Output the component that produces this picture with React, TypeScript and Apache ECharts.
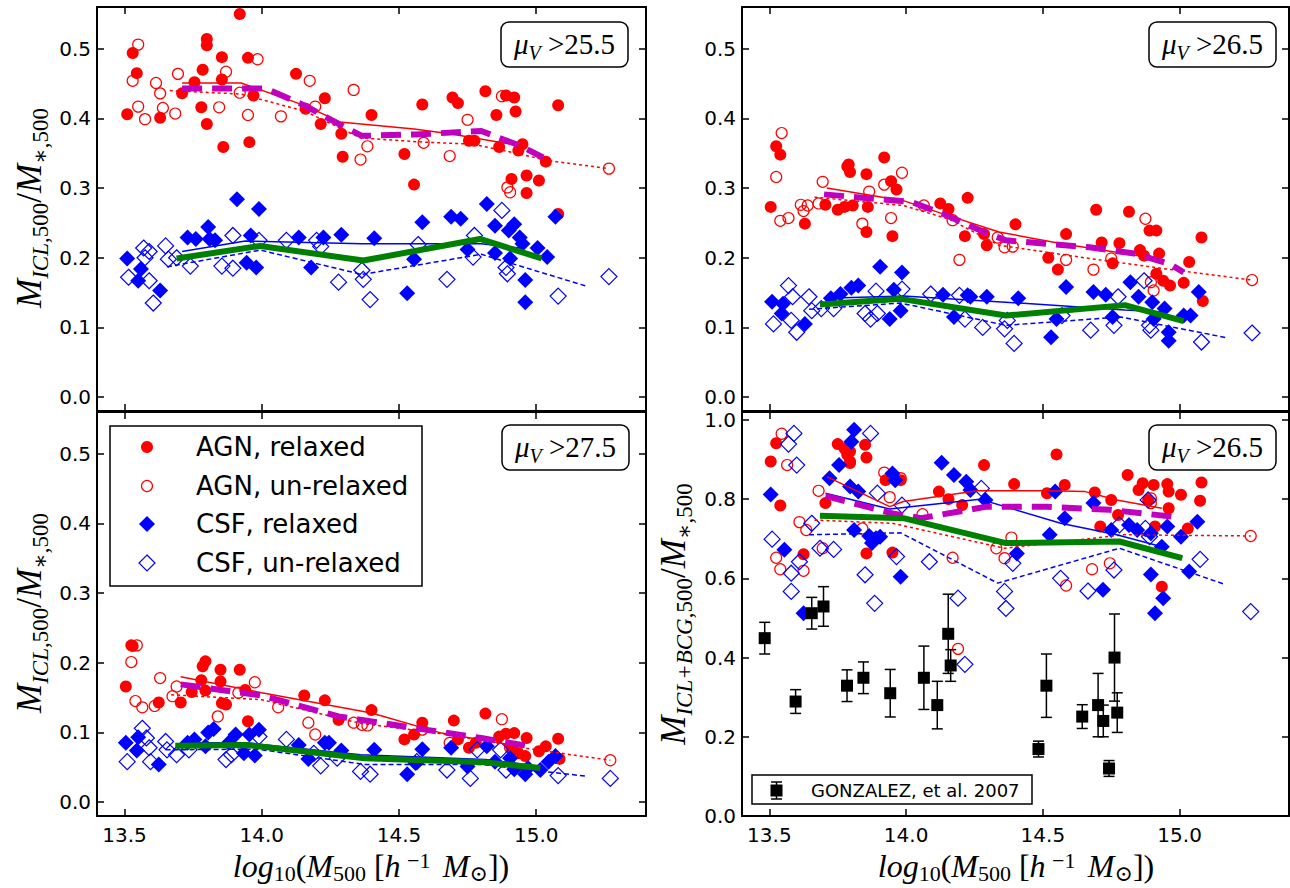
import React, { useEffect, useRef } from "react";
import * as echarts from "echarts";

// ---------------- data ----------------
const xTicks = [13.5, 14.0, 14.5, 15.0];
const yTicksSmall = [0.0, 0.1, 0.2, 0.3, 0.4, 0.5];
const yTicksBig = [0.0, 0.2, 0.4, 0.6, 0.8, 1.0];
const panelLabels = ["25.5", "26.5", "27.5", "26.5"];
const legendNames = ["AGN, relaxed", "AGN, un-relaxed", "CSF, relaxed", "CSF, un-relaxed"];

// Top-left (mu_V > 25.5)
const tlAgnRel = [[13.51,0.406],[13.53,0.494],[13.545,0.465],[13.63,0.401],[13.71,0.436],[13.755,0.452],[13.785,0.470],[13.78,0.416],[13.80,0.514],[13.80,0.505],[13.80,0.392],[13.855,0.488],[13.855,0.456],[13.86,0.359],[13.92,0.550],[13.95,0.487],[13.97,0.433],[13.955,0.366],[14.125,0.464],[14.16,0.414],[14.215,0.392],[14.23,0.429],[14.29,0.378],[14.295,0.345],[14.40,0.405],[14.52,0.349],[14.555,0.305],[14.585,0.420],[14.695,0.430],[14.715,0.422],[14.755,0.368],[14.775,0.368],[14.815,0.439],[14.855,0.405],[14.865,0.359],[14.89,0.433],[14.92,0.430],[14.925,0.410],[14.935,0.354],[14.95,0.363],[14.91,0.313],[14.965,0.318],[14.965,0.293],[15.01,0.311],[15.035,0.338],[15.08,0.419],[15.08,0.263]];
const tlAgnUnr = [[13.55,0.506],[13.53,0.454],[13.55,0.417],[13.575,0.399],[13.615,0.451],[13.63,0.436],[13.64,0.415],[13.685,0.407],[13.695,0.464],[13.845,0.416],[13.87,0.467],[13.92,0.437],[13.95,0.405],[13.985,0.485],[14.07,0.403],[14.175,0.454],[14.195,0.417],[14.335,0.441],[14.385,0.360],[14.36,0.341],[14.59,0.365],[14.685,0.346],[14.75,0.398],[14.875,0.432],[14.895,0.301],[14.905,0.294],[15.265,0.328]];
const tlCsfRel = [[13.51,0.199],[13.56,0.184],[13.55,0.167],[13.63,0.153],[13.73,0.229],[13.76,0.227],[13.805,0.244],[13.81,0.227],[13.83,0.225],[13.91,0.284],[13.96,0.232],[13.99,0.270],[13.945,0.193],[13.98,0.186],[14.135,0.229],[14.18,0.186],[14.225,0.229],[14.29,0.233],[14.41,0.228],[14.53,0.149],[14.585,0.251],[14.555,0.198],[14.69,0.259],[14.725,0.256],[14.75,0.212],[14.82,0.277],[14.85,0.246],[14.85,0.207],[14.90,0.239],[14.92,0.248],[14.905,0.199],[14.94,0.229],[14.95,0.220],[14.96,0.168],[14.96,0.136],[15.005,0.214],[15.04,0.201],[15.07,0.259]];
const tlCsfUnr = [[13.515,0.172],[13.57,0.214],[13.59,0.209],[13.575,0.200],[13.59,0.167],[13.605,0.135],[13.65,0.217],[13.66,0.198],[13.69,0.200],[13.74,0.188],[13.855,0.188],[13.895,0.232],[13.895,0.185],[13.99,0.225],[14.09,0.225],[14.20,0.225],[14.215,0.216],[14.28,0.165],[14.365,0.182],[14.37,0.169],[14.395,0.140],[14.57,0.219],[14.675,0.169],[14.77,0.201],[14.775,0.232],[14.875,0.268],[14.89,0.186],[14.895,0.177],[15.08,0.145],[15.265,0.173]];
const tlAgnRelMed = [[13.71,0.451],[13.925,0.451],[14.16,0.418],[14.285,0.395],[14.555,0.385],[14.685,0.378],[14.94,0.361]];
const tlAgnUnrMed = [[13.665,0.440],[13.925,0.435],[14.16,0.410],[14.36,0.372],[14.59,0.366],[14.77,0.363],[14.94,0.349],[15.035,0.340],[15.265,0.328]];
const tlAgnAllMed = [[13.71,0.443],[14.015,0.443],[14.16,0.418],[14.29,0.390],[14.365,0.375],[14.56,0.377],[14.80,0.382],[14.94,0.361],[15.025,0.344]];
const tlCsfAllMed = [[13.69,0.199],[13.995,0.217],[14.37,0.196],[14.795,0.227],[15.02,0.199]];
const tlCsfRelMed = [[13.71,0.209],[13.94,0.224],[14.365,0.220],[14.80,0.220],[14.94,0.214]];
const tlCsfUnrMed = [[13.655,0.187],[13.995,0.211],[14.365,0.176],[14.80,0.205],[15.185,0.159]];

// Top-right (mu_V > 26.5)
const trAgnRel = [[13.505,0.273],[13.525,0.360],[13.54,0.348],[13.63,0.249],[13.705,0.276],[13.75,0.269],[13.775,0.273],[13.805,0.275],[13.785,0.331],[13.795,0.323],[13.79,0.334],[13.855,0.320],[13.86,0.273],[13.855,0.237],[13.92,0.344],[13.945,0.310],[13.965,0.298],[13.95,0.231],[14.125,0.278],[14.155,0.270],[14.225,0.286],[14.215,0.231],[14.285,0.234],[14.295,0.218],[14.40,0.248],[14.52,0.200],[14.555,0.183],[14.585,0.234],[14.695,0.269],[14.715,0.222],[14.755,0.192],[14.78,0.221],[14.815,0.266],[14.855,0.211],[14.87,0.203],[14.89,0.239],[14.915,0.239],[14.925,0.206],[14.915,0.177],[14.94,0.167],[14.965,0.160],[15.015,0.164],[15.035,0.194],[15.08,0.229],[15.085,0.138]];
const trAgnUnr = [[13.545,0.379],[13.525,0.316],[13.54,0.253],[13.57,0.257],[13.615,0.276],[13.625,0.267],[13.64,0.275],[13.68,0.278],[13.695,0.309],[13.84,0.249],[13.865,0.295],[13.92,0.305],[13.945,0.257],[13.985,0.322],[14.065,0.275],[14.17,0.254],[14.195,0.197],[14.335,0.229],[14.36,0.215],[14.39,0.216],[14.585,0.197],[14.685,0.183],[14.75,0.199],[14.875,0.256],[14.895,0.165],[14.905,0.153],[15.265,0.168]];
const trCsfRel = [[13.51,0.137],[13.55,0.134],[13.545,0.120],[13.63,0.105],[13.725,0.142],[13.76,0.148],[13.80,0.157],[13.825,0.160],[13.905,0.187],[13.955,0.154],[13.985,0.179],[13.94,0.112],[13.98,0.124],[14.135,0.147],[14.175,0.115],[14.225,0.146],[14.235,0.144],[14.295,0.144],[14.41,0.142],[14.53,0.086],[14.585,0.158],[14.55,0.112],[14.685,0.151],[14.73,0.147],[14.755,0.115],[14.82,0.165],[14.85,0.144],[14.90,0.136],[14.945,0.127],[14.905,0.112],[14.96,0.093],[14.96,0.081],[15.015,0.117],[15.04,0.117],[15.07,0.151]];
const trCsfUnr = [[13.515,0.105],[13.57,0.160],[13.585,0.144],[13.58,0.110],[13.60,0.093],[13.645,0.144],[13.655,0.124],[13.69,0.127],[13.735,0.127],[13.85,0.120],[13.87,0.112],[13.89,0.152],[13.895,0.120],[13.985,0.155],[14.09,0.148],[14.195,0.146],[14.215,0.112],[14.28,0.100],[14.36,0.098],[14.37,0.110],[14.395,0.077],[14.57,0.117],[14.675,0.096],[14.76,0.103],[14.775,0.144],[14.87,0.167],[14.89,0.103],[14.895,0.096],[15.08,0.079],[15.265,0.092]];
const trAgnRelMed = [[13.71,0.300],[13.99,0.282],[14.135,0.263],[14.34,0.237],[14.57,0.220],[14.85,0.203],[14.945,0.196]];
const trAgnUnrMed = [[13.665,0.287],[13.99,0.275],[14.16,0.255],[14.34,0.218],[14.67,0.199],[14.95,0.184],[15.265,0.168]];
const trAgnAllMed = [[13.70,0.291],[14.02,0.280],[14.135,0.263],[14.285,0.237],[14.365,0.225],[14.67,0.215],[14.835,0.206],[14.965,0.191],[15.015,0.179]];
const trCsfAllMed = [[13.685,0.133],[13.98,0.141],[14.365,0.117],[14.80,0.132],[15.015,0.109]];
const trCsfRelMed = [[13.71,0.142],[13.99,0.145],[14.415,0.135],[14.80,0.125],[14.945,0.122]];
const trCsfUnrMed = [[13.645,0.126],[13.98,0.135],[14.365,0.103],[14.785,0.115],[15.175,0.085]];

// Bottom-left (mu_V > 27.5)
const blAgnRel = [[13.505,0.166],[13.525,0.225],[13.53,0.224],[13.625,0.143],[13.705,0.143],[13.745,0.158],[13.78,0.175],[13.785,0.195],[13.795,0.202],[13.795,0.160],[13.85,0.190],[13.85,0.173],[13.855,0.142],[13.87,0.140],[13.92,0.190],[13.94,0.161],[13.95,0.116],[14.155,0.153],[14.23,0.146],[14.28,0.118],[14.40,0.132],[14.52,0.090],[14.555,0.097],[14.585,0.114],[14.70,0.117],[14.715,0.090],[14.755,0.078],[14.78,0.085],[14.815,0.127],[14.865,0.094],[14.89,0.098],[14.92,0.099],[14.91,0.078],[14.935,0.070],[14.96,0.066],[14.965,0.092],[15.01,0.073],[15.035,0.080],[15.08,0.091],[15.085,0.062]];
const blAgnUnr = [[13.545,0.225],[13.525,0.201],[13.54,0.145],[13.565,0.136],[13.61,0.138],[13.63,0.178],[13.675,0.152],[13.69,0.166],[13.84,0.123],[13.915,0.157],[13.975,0.172],[14.06,0.136],[14.17,0.114],[14.195,0.097],[14.335,0.114],[14.365,0.111],[14.385,0.110],[14.585,0.104],[14.685,0.085],[14.875,0.119],[14.905,0.078],[14.92,0.073],[15.27,0.060]];
const blCsfRel = [[13.505,0.085],[13.545,0.074],[13.55,0.093],[13.625,0.054],[13.73,0.085],[13.755,0.090],[13.805,0.100],[13.825,0.105],[13.795,0.080],[13.905,0.097],[13.88,0.085],[13.935,0.070],[13.955,0.097],[13.99,0.104],[13.975,0.067],[14.135,0.082],[14.17,0.062],[14.23,0.085],[14.245,0.085],[14.29,0.074],[14.41,0.075],[14.53,0.040],[14.585,0.076],[14.56,0.056],[14.69,0.078],[14.75,0.051],[14.82,0.080],[14.85,0.058],[14.905,0.063],[14.92,0.047],[14.96,0.040],[14.97,0.049],[15.015,0.046],[15.045,0.058],[15.07,0.066]];
const blCsfUnr = [[13.51,0.058],[13.565,0.106],[13.58,0.092],[13.59,0.078],[13.595,0.058],[13.65,0.087],[13.655,0.075],[13.69,0.068],[13.735,0.075],[13.87,0.061],[13.89,0.068],[13.99,0.094],[14.09,0.090],[14.19,0.070],[14.215,0.052],[14.275,0.063],[14.36,0.044],[14.395,0.040],[14.565,0.058],[14.675,0.046],[14.76,0.034],[14.785,0.075],[14.87,0.075],[14.89,0.046],[15.08,0.038],[15.27,0.034]];
const blAgnRelMed = [[13.705,0.180],[14.0,0.157],[14.40,0.128],[14.655,0.099],[14.94,0.080]];
const blAgnUnrMed = [[13.67,0.154],[14.0,0.147],[14.36,0.113],[14.68,0.097],[14.95,0.078],[15.27,0.060]];
const blAgnAllMed = [[13.705,0.169],[14.0,0.153],[14.28,0.123],[14.595,0.104],[14.80,0.092],[14.98,0.080]];
const blCsfAllMed = [[13.685,0.081],[13.945,0.082],[14.375,0.063],[14.815,0.057],[15.015,0.049]];
const blCsfRelMed = [[13.715,0.085],[13.945,0.085],[14.36,0.068],[14.815,0.061],[14.94,0.055]];
const blCsfUnrMed = [[13.65,0.075],[13.985,0.076],[14.375,0.054],[14.80,0.054],[15.185,0.037]];

// Bottom-right (ICL+BCG, mu_V > 26.5)
const brAgnRel = [[13.505,0.895],[13.525,0.941],[13.54,0.784],[13.625,0.661],[13.705,0.790],[13.75,0.939],[13.775,0.928],[13.785,0.912],[13.795,0.920],[13.795,0.895],[13.795,0.891],[13.85,0.937],[13.855,0.905],[13.855,0.663],[13.925,0.848],[13.95,0.665],[13.98,0.848],[14.12,0.819],[14.155,0.800],[14.285,0.886],[14.205,0.785],[14.395,0.838],[14.515,0.815],[14.55,0.913],[14.58,0.836],[14.69,0.817],[14.71,0.731],[14.75,0.798],[14.775,0.760],[14.81,0.861],[14.85,0.823],[14.865,0.840],[14.905,0.836],[14.885,0.798],[14.91,0.731],[14.935,0.579],[14.955,0.838],[14.96,0.819],[14.96,0.777],[15.005,0.811],[15.03,0.726],[15.075,0.796],[15.08,0.842]];
const brAgnUnr = [[13.545,0.965],[13.565,0.886],[13.61,0.742],[13.635,0.722],[13.525,0.652],[13.54,0.623],[13.625,0.619],[13.68,0.821],[13.695,0.676],[13.84,0.726],[13.92,0.867],[13.94,0.805],[13.98,0.853],[14.06,0.762],[14.17,0.652],[14.19,0.422],[14.33,0.676],[14.36,0.651],[14.385,0.703],[14.585,0.582],[14.68,0.623],[14.745,0.638],[14.895,0.802],[14.895,0.790],[15.26,0.707]];
const brCsfRel = [[13.505,0.812],[13.555,0.672],[13.625,0.512],[13.72,0.853],[13.755,0.886],[13.795,0.832],[13.81,0.975],[13.80,0.945],[13.825,0.819],[13.81,0.722],[13.865,0.707],[13.875,0.689],[13.89,0.701],[13.905,0.705],[13.95,0.865],[13.96,0.848],[13.98,0.604],[14.13,0.892],[14.175,0.861],[14.22,0.844],[14.235,0.823],[14.29,0.798],[14.405,0.663],[14.525,0.710],[14.545,0.819],[14.58,0.752],[14.685,0.790],[14.72,0.571],[14.75,0.722],[14.815,0.735],[14.845,0.722],[14.895,0.610],[14.895,0.714],[14.94,0.550],[14.91,0.512],[14.955,0.731],[15.005,0.705],[15.035,0.617],[15.065,0.743],[14.935,0.680]];
const brCsfUnr = [[13.51,0.699],[13.59,0.966],[13.57,0.939],[13.60,0.886],[13.58,0.613],[13.58,0.567],[13.61,0.642],[13.655,0.739],[13.685,0.676],[13.735,0.673],[13.87,0.966],[13.85,0.609],[13.885,0.537],[13.895,0.815],[13.965,0.655],[13.985,0.785],[14.085,0.642],[14.19,0.550],[14.215,0.383],[14.275,0.827],[14.36,0.567],[14.365,0.524],[14.39,0.638],[14.565,0.600],[14.665,0.568],[14.76,0.621],[14.78,0.735],[14.885,0.798],[14.89,0.705],[14.875,0.726],[15.075,0.648],[15.26,0.516]];
const brAgnRelMed = [[13.71,0.857],[13.94,0.781],[13.99,0.794],[14.26,0.821],[14.515,0.821],[14.655,0.819],[14.77,0.798],[14.935,0.777]];
const brAgnUnrMed = [[13.665,0.747],[13.95,0.739],[14.36,0.676],[14.795,0.710],[15.26,0.707]];
const brAgnAllMed = [[13.705,0.808],[13.95,0.764],[14.055,0.752],[14.295,0.781],[14.515,0.781],[14.745,0.773],[14.97,0.756]];
const brCsfAllMed = [[13.685,0.758],[13.99,0.752],[14.365,0.689],[14.78,0.693],[15.01,0.651]];
const brCsfRelMed = [[13.705,0.815],[13.94,0.775],[14.27,0.800],[14.565,0.739],[14.77,0.710],[14.935,0.680]];
const brCsfUnrMed = [[13.645,0.710],[13.98,0.715],[14.335,0.588],[14.78,0.676],[15.165,0.585]];

// Gonzalez et al. 2007 observations
const gonzX = [13.483,13.596,13.655,13.698,13.784,13.844,13.942,14.065,14.114,14.154,14.163,14.484,14.513,14.644,14.702,14.721,14.742,14.762,14.772];
const gonzY = [0.449,0.289,0.512,0.529,0.329,0.349,0.310,0.349,0.280,0.460,0.380,0.169,0.329,0.251,0.280,0.240,0.120,0.400,0.261];
const gonzErr = [0.040,0.030,0.040,0.050,0.040,0.040,0.060,0.080,0.060,0.100,0.040,0.020,0.080,0.030,0.080,0.040,0.020,0.110,0.050];

// ---------------- styling helpers ----------------
const SANS = "DejaVu Sans";
const SERIF = "Liberation Serif, DejaVu Serif, serif";
const RED = "#ff0000";
const BLUE = "#0000ff";
const GREEN = "#008000";
const MAG = "#bf00bf";
const SP = "\u00a0";
const NSP = "\u202f";

const grids = [
  { left: 97, top: 7, width: 549, height: 404 },
  { left: 742, top: 7, width: 547, height: 404 },
  { left: 97, top: 412, width: 549, height: 404 },
  { left: 742, top: 412, width: 547, height: 404 },
];

function xAxisCfg(g: number, pos: string, showLabel: boolean) {
  return {
    type: "value", gridIndex: g, position: pos, min: 13.4, max: 15.4,
    axisLine: { show: true, onZero: false, lineStyle: { color: "#000", width: 2 } },
    axisTick: { show: true, inside: true, length: 7, customValues: xTicks, lineStyle: { color: "#000", width: 1.5 } },
    axisLabel: { show: showLabel, customValues: xTicks, formatter: (v: number) => v.toFixed(1), fontFamily: SANS, fontSize: 20, color: "#000", margin: 9 },
    splitLine: { show: false },
  };
}
function yAxisCfg(g: number, pos: string, showLabel: boolean, big: boolean) {
  const ticks = big ? yTicksBig : yTicksSmall;
  return {
    type: "value", gridIndex: g, position: pos,
    min: big ? 0 : -0.02, max: big ? 1.02 : 0.56,
    axisLine: { show: true, onZero: false, lineStyle: { color: "#000", width: 2 } },
    axisTick: { show: true, inside: true, length: 7, customValues: ticks, lineStyle: { color: "#000", width: 1.5 } },
    axisLabel: { show: showLabel, customValues: ticks, formatter: (v: number) => v.toFixed(1), fontFamily: SANS, fontSize: 20, color: "#000", margin: 6 },
    splitLine: { show: false },
  };
}

function panelSeries(g: number, d: any) {
  const ax = { xAxisIndex: 2 * g, yAxisIndex: 2 * g, silent: true };
  const line = (data: number[][], color: string, width: number, type: any, z: number) => ({
    ...ax, type: "line", data, showSymbol: false, symbol: "none", z,
    lineStyle: { color, width, type, opacity: 1 }, emphasis: { disabled: true },
  });
  return [
    { ...ax, type: "scatter", name: legendNames[0], data: d.agnRel, symbol: "circle", symbolSize: 12, itemStyle: { color: RED, opacity: 1 }, z: 2 },
    { ...ax, type: "scatter", name: legendNames[1], data: d.agnUnr, symbol: "circle", symbolSize: 11, itemStyle: { color: "rgba(255,255,255,0)", borderColor: RED, borderWidth: 1.2, opacity: 1 }, z: 2 },
    { ...ax, type: "scatter", name: legendNames[2], data: d.csfRel, symbol: "diamond", symbolSize: 16, itemStyle: { color: BLUE, opacity: 1 }, z: 2 },
    { ...ax, type: "scatter", name: legendNames[3], data: d.csfUnr, symbol: "diamond", symbolSize: 16, itemStyle: { color: "rgba(255,255,255,0)", borderColor: BLUE, borderWidth: 1.2, opacity: 1 }, z: 2 },
    line(d.agnRelMed, RED, 1.5, "solid", 3),
    line(d.agnUnrMed, RED, 1.5, [3, 3], 3),
    line(d.csfRelMed, BLUE, 1.5, "solid", 3),
    line(d.csfUnrMed, BLUE, 1.5, [5, 3], 3),
    line(d.agnAllMed, MAG, 6, [20, 10], 4),
    line(d.csfAllMed, GREEN, 6, "solid", 4),
  ];
}

const mathRich = (main: number, sub: number, lh = 1.3) => ({
  i: { fontFamily: SERIF, fontStyle: "italic", fontSize: main, lineHeight: main * lh, verticalAlign: "middle", color: "#000" },
  n: { fontFamily: SERIF, fontSize: main, lineHeight: main * lh, verticalAlign: "middle", color: "#000" },
  si: { fontFamily: SERIF, fontStyle: "italic", fontSize: sub, lineHeight: main * 0.55, verticalAlign: "bottom", color: "#000" },
  sn: { fontFamily: SERIF, fontSize: sub, lineHeight: main * 0.55, verticalAlign: "bottom", color: "#000" },
  sp: { fontFamily: SERIF, fontSize: sub, lineHeight: main * 0.45, verticalAlign: "top", padding: [2, 0, 0, 0], color: "#000" },
});

function muBox(x: number, y: number, label: string) {
  return [
    { type: "rect", z: 100, shape: { x, y, width: 127, height: 45, r: 8 }, style: { fill: "#fff", stroke: "#000", lineWidth: 1.5 } },
    { type: "text", z: 101, x: x + 63.5, y: y + 22,
      style: { text: `{i|μ}{si|V}{n|${SP}>${label}}`, rich: mathRich(29, 20), align: "center", verticalAlign: "middle" } },
  ];
}

function yTitle(x: number, y: number, icl: string) {
  return {
    type: "text", z: 101, x, y, rotation: Math.PI / 2,
    style: { text: `{i|M}{si|${icl}}{sn|,500}{n|/}{i|M}{sn|∗,500}`, rich: mathRich(35, 23), align: "center", verticalAlign: "middle" },
  };
}
function xTitle(x: number, y: number) {
  return {
    type: "text", z: 101, x, y,
    style: { text: `{i|log}{sn|10}{n|(}{i|M}{sn|500}{n|${SP}[}{i|h${NSP}}{sp|−1${NSP}}{i|${SP}M}{sn|⊙}{n|])}`, rich: mathRich(32, 22, 1.15), align: "center", verticalAlign: "middle" },
  };
}

export default function App() {
  const ref = useRef<HTMLDivElement>(null);
  useEffect(() => {
    if (!ref.current) return;
    const chart = echarts.init(ref.current, null, { renderer: "svg" });
    const panels = [
      { agnRel: tlAgnRel, agnUnr: tlAgnUnr, csfRel: tlCsfRel, csfUnr: tlCsfUnr, agnRelMed: tlAgnRelMed, agnUnrMed: tlAgnUnrMed, agnAllMed: tlAgnAllMed, csfAllMed: tlCsfAllMed, csfRelMed: tlCsfRelMed, csfUnrMed: tlCsfUnrMed },
      { agnRel: trAgnRel, agnUnr: trAgnUnr, csfRel: trCsfRel, csfUnr: trCsfUnr, agnRelMed: trAgnRelMed, agnUnrMed: trAgnUnrMed, agnAllMed: trAgnAllMed, csfAllMed: trCsfAllMed, csfRelMed: trCsfRelMed, csfUnrMed: trCsfUnrMed },
      { agnRel: blAgnRel, agnUnr: blAgnUnr, csfRel: blCsfRel, csfUnr: blCsfUnr, agnRelMed: blAgnRelMed, agnUnrMed: blAgnUnrMed, agnAllMed: blAgnAllMed, csfAllMed: blCsfAllMed, csfRelMed: blCsfRelMed, csfUnrMed: blCsfUnrMed },
      { agnRel: brAgnRel, agnUnr: brAgnUnr, csfRel: brCsfRel, csfUnr: brCsfUnr, agnRelMed: brAgnRelMed, agnUnrMed: brAgnUnrMed, agnAllMed: brAgnAllMed, csfAllMed: brCsfAllMed, csfRelMed: brCsfRelMed, csfUnrMed: brCsfUnrMed },
    ];
    const xAxes: any[] = [];
    const yAxes: any[] = [];
    for (let g = 0; g < 4; g++) {
      const bottomRow = g >= 2;
      xAxes.push(xAxisCfg(g, "bottom", bottomRow));
      xAxes.push(xAxisCfg(g, "top", false));
      yAxes.push(yAxisCfg(g, "left", true, g === 3));
      yAxes.push(yAxisCfg(g, "right", false, g === 3));
    }
    let series: any[] = [];
    panels.forEach((d, g) => { series = series.concat(panelSeries(g, d)); });

    const gonz = gonzX.map((x, i) => [x, gonzY[i], gonzErr[i]]);
    series.push({
      type: "custom", xAxisIndex: 6, yAxisIndex: 6, silent: true, z: 5, data: gonz,
      renderItem: (params: any, api: any) => {
        const x = api.value(0), y = api.value(1), e = api.value(2);
        const t = api.coord([x, y + e]);
        const b = api.coord([x, y - e]);
        const cw = 5.5;
        const st = { stroke: "#000", lineWidth: 1.5 };
        return {
          type: "group", children: [
            { type: "line", shape: { x1: t[0], y1: t[1], x2: b[0], y2: b[1] }, style: st },
            { type: "line", shape: { x1: t[0] - cw, y1: t[1], x2: t[0] + cw, y2: t[1] }, style: st },
            { type: "line", shape: { x1: b[0] - cw, y1: b[1], x2: b[0] + cw, y2: b[1] }, style: st },
          ],
        };
      },
    });
    series.push({
      type: "scatter", name: "GONZALEZ, et al. 2007", xAxisIndex: 6, yAxisIndex: 6, silent: true, z: 6,
      data: gonzX.map((x, i) => [x, gonzY[i]]), symbol: "rect", symbolSize: 12, itemStyle: { color: "#000", opacity: 1 },
    });

    const legendRows = [447, 486, 524, 563];
    const graphic: any[] = [
      // legend (bottom-left)
      { type: "rect", z: 100, shape: { x: 110, y: 426, width: 312, height: 160 }, style: { fill: "#fff", stroke: "#000", lineWidth: 1.5 } },
      { type: "circle", z: 101, shape: { cx: 147, cy: legendRows[0], r: 6 }, style: { fill: RED } },
      { type: "circle", z: 101, shape: { cx: 147, cy: legendRows[1], r: 5.5 }, style: { fill: "none", stroke: RED, lineWidth: 1.2 } },
      { type: "polygon", z: 101, shape: { points: [[147, legendRows[2] - 8], [155, legendRows[2]], [147, legendRows[2] + 8], [139, legendRows[2]]] }, style: { fill: BLUE } },
      { type: "polygon", z: 101, shape: { points: [[147, legendRows[3] - 8], [155, legendRows[3]], [147, legendRows[3] + 8], [139, legendRows[3]]] }, style: { fill: "none", stroke: BLUE, lineWidth: 1.2 } },
      ...legendNames.map((t, i) => ({ type: "text", z: 101, x: 196, y: legendRows[i], style: { text: t, fontFamily: SANS, fontSize: 26, fill: "#000", align: "left", verticalAlign: "middle" } })),
      // Gonzalez legend
      { type: "rect", z: 100, shape: { x: 752, y: 775, width: 280, height: 29 }, style: { fill: "#fff", stroke: "#000", lineWidth: 1.5 } },
      { type: "line", z: 101, shape: { x1: 776.5, y1: 782, x2: 776.5, y2: 799 }, style: { stroke: "#000", lineWidth: 1.5 } },
      { type: "line", z: 101, shape: { x1: 771, y1: 782, x2: 782, y2: 782 }, style: { stroke: "#000", lineWidth: 1.5 } },
      { type: "line", z: 101, shape: { x1: 771, y1: 799, x2: 782, y2: 799 }, style: { stroke: "#000", lineWidth: 1.5 } },
      { type: "rect", z: 101, shape: { x: 770.5, y: 784.5, width: 12, height: 12 }, style: { fill: "#000" } },
      { type: "text", z: 101, x: 811, y: 790.5, style: { text: "GONZALEZ, et al. 2007", fontFamily: SANS, fontSize: 18, fill: "#000", align: "left", verticalAlign: "middle" } },
      // mu_V boxes
      ...muBox(501, 22, panelLabels[0]),
      ...muBox(1149, 22, panelLabels[1]),
      ...muBox(502, 425, panelLabels[2]),
      ...muBox(1149, 425, panelLabels[3]),
      // axis titles
      yTitle(29, 208, "ICL"),
      yTitle(29, 613, "ICL"),
      yTitle(673, 614, "ICL+BCG"),
      xTitle(371, 866),
      xTitle(1016, 866),
    ];

    chart.setOption({
      animation: false,
      backgroundColor: "#fff",
      grid: grids.map((g) => ({ ...g, show: false, containLabel: false })),
      xAxis: xAxes,
      yAxis: yAxes,
      series,
      graphic,
    });
    return () => chart.dispose();
  }, []);
  return <div ref={ref} style={{ position: "absolute", left: 0, top: 0, width: 1290, height: 888 }} />;
}
